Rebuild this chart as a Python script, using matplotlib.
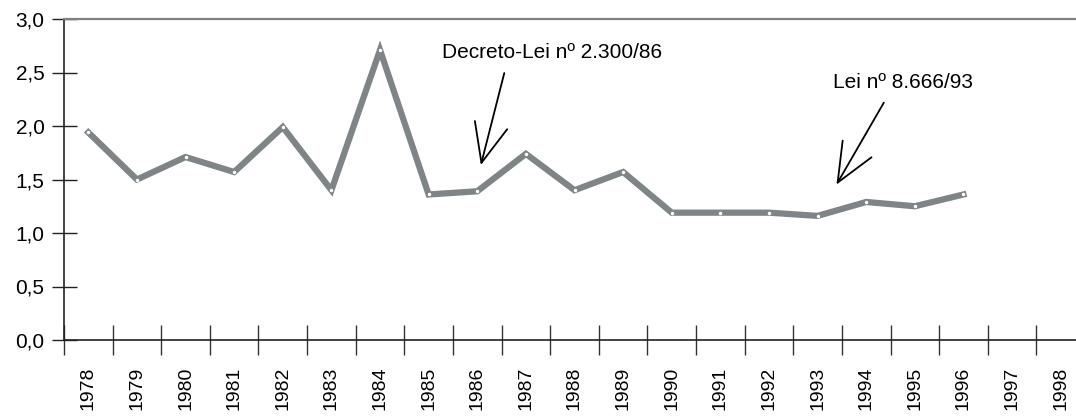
import numpy as np
import matplotlib
matplotlib.use('Agg')
import matplotlib.pyplot as plt
from matplotlib.ticker import FuncFormatter

plt.rcParams['font.family'] = ['Liberation Sans', 'DejaVu Sans']

years = [str(y) for y in range(1978, 1999)]
anos_dados = list(range(1978, 1997))
valores = [1.94, 1.50, 1.71, 1.57, 1.99, 1.40, 2.71, 1.36, 1.39, 1.74,
           1.40, 1.57, 1.19, 1.19, 1.19, 1.16, 1.29, 1.25, 1.36]

notas = ['Decreto-Lei nº 2.300/86', 'Lei nº 8.666/93']
nota_anos = [1986, 1993]

fig = plt.figure(figsize=(10.76, 4.16), dpi=100)
ax = fig.add_axes([64 / 1076, 76 / 416, 1021 / 1076, 321 / 416])

x = [years.index(str(a)) for a in anos_dados]
ax.plot(x, valores, color='#7f8486', lw=4.5, solid_joinstyle='miter',
        marker='o', ms=1.5, mfc='white', mec='white', zorder=3)

ax.set_xlim(-0.5, len(years) - 0.5)
ax.set_ylim(0, 3.0)

# limites das categorias como ticks longos, rótulos no meio
ax.set_xticks(np.arange(-0.5, len(years), 1.0))
ax.set_xticklabels([])
ax.set_xticks(np.arange(len(years)), minor=True)
ax.set_xticklabels(years, minor=True, rotation=90, fontsize=14)
ax.tick_params(axis='x', which='major', direction='inout', length=22,
               width=1.0, color='#333333')
ax.tick_params(axis='x', which='minor', length=0, pad=19)

ax.set_yticks(np.arange(0, 3.01, 0.5))
ax.yaxis.set_major_formatter(FuncFormatter(lambda v, p: ('%.1f' % v).replace('.', ',')))
ax.tick_params(axis='y', direction='inout', length=18, width=1.0,
               color='#222222', labelsize=15, pad=5)

ax.spines['right'].set_visible(False)
ax.spines['top'].set_color('#808080')
ax.spines['top'].set_linewidth(1.6)
ax.spines['left'].set_color('#222222')
ax.spines['bottom'].set_color('#222222')
ax.spines['left'].set_linewidth(1.2)
ax.spines['bottom'].set_linewidth(1.2)

# anotações
seta = dict(arrowstyle='->,head_length=2.8,head_width=1.2', color='black', lw=1.3)

i0 = years.index(str(nota_anos[0]))
ax.annotate('', xy=(i0 + 0.06, 1.61), xytext=(i0 + 0.57, 2.52), arrowprops=seta)
ax.text(i0 + 1.54, 2.69, notas[0], ha='center', va='center', fontsize=15)

i1 = years.index(str(nota_anos[1]))
ax.annotate('', xy=(i1 + 0.36, 1.43), xytext=(i1 + 1.39, 2.24), arrowprops=seta)
ax.text(i1 + 1.76, 2.41, notas[1], ha='center', va='center', fontsize=15)

fig.savefig('out.png', dpi=100)
